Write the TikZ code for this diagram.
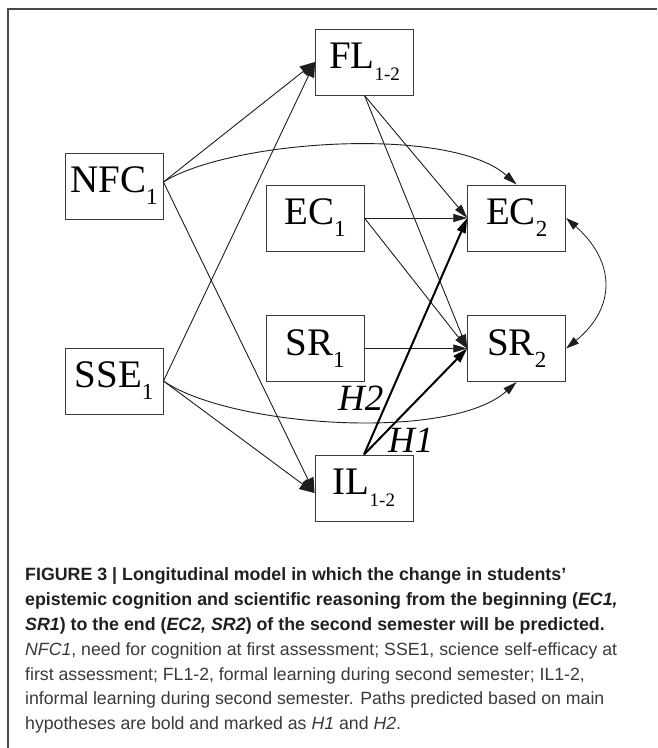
\documentclass[tikz,border=0pt]{standalone}
\usepackage{fontspec}
\setmainfont{Liberation Serif}
\newfontfamily\capfont{Liberation Sans}
\usetikzlibrary{arrows.meta}
\definecolor{edgecol}{HTML}{1E1E1E}
\definecolor{boxcol}{HTML}{3C3C3C}
\definecolor{framecol}{HTML}{4A4A4A}
\definecolor{titlecol}{HTML}{231F20}
\definecolor{bodycol}{HTML}{3A3A3A}
% variable label: large letters with a lowered index
\newcommand{\vlab}[3]{{\fontsize{39}{39}\selectfont #1}\raisebox{-12pt}{\fontsize{#3}{#3}\selectfont #2}}
\tikzset{
  varbox/.style={draw=boxcol, line width=0.9pt, minimum width=98pt, minimum height=66pt,
    inner sep=0pt, anchor=center, fill=white},
  path/.style={draw=edgecol, line width=0.9pt, -{Triangle[length=14pt,width=8pt]}},
  bigpath/.style={draw=edgecol, line width=0.9pt, -{Triangle[length=15pt,width=12pt]}},
  hpath/.style={draw=black, line width=2pt, -{Triangle[length=15pt,width=9pt]}},
  covpath/.style={draw=edgecol, line width=0.8pt, {Triangle[length=13pt,width=8pt]}-{Triangle[length=13pt,width=8pt]}},
  hyp/.style={font=\fontsize{37}{37}\selectfont\itshape, anchor=base west, inner sep=0pt},
  captitle/.style={anchor=base west, inner sep=0pt, text=titlecol,
    font=\capfont\bfseries\fontsize{17.8}{20}\selectfont},
  capbody/.style={anchor=base west, inner sep=0pt, text=bodycol,
    font=\capfont\fontsize{17.7}{20}\selectfont},
}
\begin{document}
\begin{tikzpicture}[x=1pt,y=-1pt]
\useasboundingbox (0,0) rectangle (657,748);
\fill[white] (0,0) rectangle (657,748);
\draw[framecol, line width=1.1pt] (8,748) -- (8,9) -- (657,9);

% variables
\node[varbox] (fl)  at (364.5,62)    {\vlab{FL}{1-2}{19}};
\node[varbox] (nfc) at (114,186)     {\vlab{NFC}{1}{23}};
\node[varbox] (ec1) at (315,218)     {\vlab{EC}{1}{23}};
\node[varbox] (ec2) at (516.7,218)   {\vlab{EC}{2}{23}};
\node[varbox] (sr1) at (315,348.5)   {\vlab{SR}{1}{23}};
\node[varbox] (sr2) at (516.7,348.5) {\vlab{SR}{2}{23}};
\node[varbox] (sse) at (114,381)     {\vlab{SSE}{1}{23}};
\node[varbox] (il)  at (364,488)     {\vlab{IL}{1-2}{19}};

% paths from the predictors
\draw[bigpath] ([yshift=4pt]nfc.east) -- (fl.west);
\draw[bigpath] (sse.east) -- (fl.west);
\draw[bigpath] ([yshift=4pt]nfc.east) -- ([yshift=-5pt]il.west);
\draw[bigpath] (sse.east) -- ([yshift=-5pt]il.west);
\draw[path] ([yshift=4pt]nfc.east) .. controls (230,140) and (450,125) .. (ec2.north);
\draw[path] (sse.east) .. controls (230,427) and (450,442) .. (sr2.south);

% paths to the outcomes
\draw[path] (fl.south) -- (ec2.west);
\draw[path] (fl.south) -- (sr2.west);
\draw[path] (ec1.east) -- (ec2.west);
\draw[path] (ec1.east) -- (sr2.west);
\draw[path] (sr1.east) -- (sr2.west);

% hypothesised paths
\draw[hpath] (il.north) -- (ec2.west);
\draw[hpath] (il.north) -- (sr2.west);
\node[hyp] (h2) at (338,410.7) {H2};
\node[hyp] (h1) at (388,452.7) {H1};

% residual covariance
\draw[covpath] (ec2.east) .. controls (616,262) and (616,308) .. (sr2.east);

% caption
\node[captitle] (c1) at (25,580)   {FIGURE 3 | Longitudinal model in which the change in students’};
\node[captitle] (c2) at (25,605.5) {epistemic cognition and scientific reasoning from the beginning (\textit{EC1,}};
\node[captitle] (c3) at (25,630.5) {\textit{SR1}) to the end (\textit{EC2, SR2}) of the second semester will be predicted.};
\node[capbody]  (c4) at (25,655)   {\textit{NFC1}, need for cognition at first assessment; SSE1, science self-efficacy at};
\node[capbody]  (c5) at (25,680)   {first assessment; FL1-2, formal learning during second semester; IL1-2,};
\node[capbody]  (c6) at (25,704.5) {informal learning during second semester. Paths predicted based on main};
\node[capbody]  (c7) at (25,729)   {hypotheses are bold and marked as \textit{H1} and \textit{H2}.};
\end{tikzpicture}
\end{document}
